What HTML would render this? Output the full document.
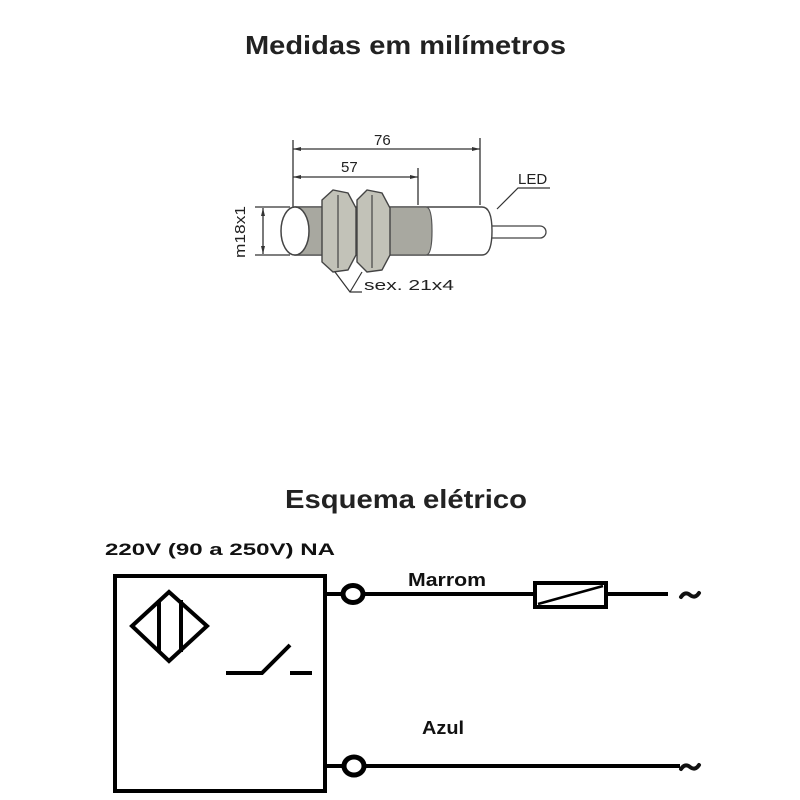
<!DOCTYPE html>
<html><head><meta charset="utf-8"><style>html,body{margin:0;padding:0;background:#fff}svg{display:block}</style></head><body>
<svg width="800" height="800" viewBox="0 0 800 800" xmlns="http://www.w3.org/2000/svg" font-family="Liberation Sans, DejaVu Sans, sans-serif">
<rect width="800" height="800" fill="#fff"/>
<text x="245" y="54" font-size="26" font-weight="bold" fill="#222" textLength="321" lengthAdjust="spacingAndGlyphs">Medidas em milímetros</text>
<text x="285" y="508" font-size="26" font-weight="bold" fill="#222" textLength="242" lengthAdjust="spacingAndGlyphs">Esquema elétrico</text>
<g stroke="#333" stroke-width="1.3" fill="none">
<line x1="293" y1="140" x2="293" y2="207"/><line x1="480" y1="138" x2="480" y2="205"/><line x1="418" y1="168" x2="418" y2="205"/>
<line x1="293" y1="149" x2="480" y2="149"/><line x1="293" y1="177" x2="418" y2="177"/>
<line x1="255" y1="207" x2="290" y2="207"/><line x1="255" y1="255" x2="290" y2="255"/><line x1="263" y1="208" x2="263" y2="254"/>
</g>
<g fill="#333"><polygon points="293,149 301,147 301,151"/><polygon points="480,149 472,147 472,151"/><polygon points="293,177 301,175 301,179"/><polygon points="418,177 410,175 410,179"/><polygon points="263,208 261,216 265,216"/><polygon points="263,254 261,246 265,246"/></g>
<path d="M488 226 H540 a6 6 0 0 1 0 12 H488" fill="#fff" stroke="#444" stroke-width="1.3"/>
<path d="M295 207 H482 q10 0 10 24 q0 24 -10 24 H295 Z" fill="#fff" stroke="#444" stroke-width="1.4"/>
<path d="M295 207 H426 q6 0 6 24 q0 24 -6 24 H295 Z" fill="#a8a8a0" stroke="#555" stroke-width="1.2"/>
<g fill="#c2c2b8" stroke="#444" stroke-width="1.4">
<path d="M322 200 L333 190 L348 193 L356 208 L356 255 L348 270 L333 272 L322 262 Z"/>
<path d="M357 200 L367 190 L382 193 L390 208 L390 255 L382 270 L367 272 L357 262 Z"/>
</g>
<g stroke="#444" stroke-width="1.2" fill="none"><line x1="338" y1="195" x2="338" y2="268"/><line x1="372" y1="195" x2="372" y2="268"/></g>
<ellipse cx="295" cy="231" rx="14" ry="24" fill="#fff" stroke="#444" stroke-width="1.5"/>
<text transform="translate(245,258) rotate(-90)" font-size="15" fill="#222" textLength="52" lengthAdjust="spacingAndGlyphs">m18x1</text>
<text x="374" y="145" font-size="15" fill="#222">76</text>
<text x="341" y="172" font-size="15" fill="#222">57</text>
<text x="518" y="184" font-size="15" fill="#222">LED</text>
<polyline points="550,188 518,188 497,209" stroke="#333" stroke-width="1.2" fill="none"/>
<polyline points="335,272 350,292 362,292" stroke="#333" stroke-width="1.2" fill="none"/>
<line x1="362" y1="272" x2="350" y2="292" stroke="#333" stroke-width="1.2"/>
<text x="364" y="290" font-size="15" fill="#222" textLength="90" lengthAdjust="spacingAndGlyphs">sex. 21x4</text>

<text x="105" y="555" font-size="17" font-weight="bold" fill="#111" textLength="230" lengthAdjust="spacingAndGlyphs">220V (90 a 250V) NA</text>
<rect x="115" y="576" width="210" height="215" fill="none" stroke="#000" stroke-width="4"/>
<g stroke="#000" stroke-width="4" fill="none">
<polygon points="132,626 169,592 207,626 169,661"/>
<line x1="159" y1="600" x2="159" y2="652"/><line x1="181" y1="600" x2="181" y2="652"/>
<polyline points="226,673 262,673 290,645"/><line x1="290" y1="673" x2="312" y2="673"/>
<line x1="325" y1="594" x2="343" y2="594"/><line x1="363" y1="594" x2="533" y2="594"/>
<line x1="607" y1="594" x2="668" y2="594"/>
<line x1="325" y1="766" x2="344" y2="766"/><line x1="364" y1="766" x2="680" y2="766"/>
</g>
<ellipse cx="353" cy="594" rx="10" ry="8.5" fill="#fff" stroke="#000" stroke-width="5"/>
<ellipse cx="354" cy="766" rx="10" ry="9" fill="#fff" stroke="#000" stroke-width="5"/>
<rect x="535" y="583" width="71" height="24" fill="#fff" stroke="#000" stroke-width="4"/>
<line x1="538" y1="604" x2="603" y2="586" stroke="#000" stroke-width="2.5"/>
<text x="408" y="586" font-size="18" font-weight="bold" fill="#111" textLength="78" lengthAdjust="spacingAndGlyphs">Marrom</text>
<text x="422" y="734" font-size="18" font-weight="bold" fill="#111" textLength="42" lengthAdjust="spacingAndGlyphs">Azul</text>
<g stroke="#111" stroke-width="4" fill="none" stroke-linecap="round">
<path d="M681 597 q4 -6 9 -2 q5 4 9 -2"/>
<path d="M681 769 q4 -6 9 -2 q5 4 9 -2"/>
</g>
</svg>
</body></html>
